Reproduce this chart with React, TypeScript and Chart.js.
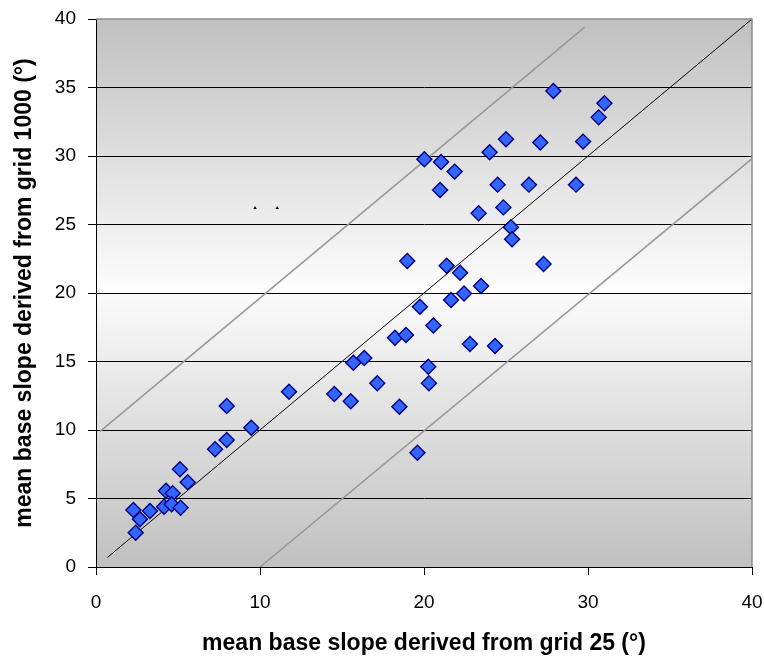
import React, { useEffect, useRef } from "react";
import { Chart, registerables } from "chart.js";

Chart.register(...registerables);

// grid 25 slope (x) and grid 1000 slope (y)
const grid25: number[] = [
  2.28, 2.68, 3.29, 2.42, 4.15, 4.27, 4.68, 4.61, 5.16, 5.59,
  5.12, 7.26, 7.97, 7.97, 9.47, 11.77, 14.53, 15.53, 15.69, 16.36,
  17.15, 18.23, 18.9, 18.5, 19.75, 19.6, 21.65, 22.44, 23.48, 20.57,
  22.8, 24.33, 20.26, 20.3, 27.89, 31.0, 30.65, 25.0, 27.09, 29.7,
  24.0, 20.02, 21.04, 21.87, 20.98, 24.49, 26.4, 29.27, 24.84, 23.33,
  25.3, 25.37, 18.98, 21.38, 22.2, 27.29,
];
const grid1000: number[] = [
  4.16, 3.48, 4.09, 2.5, 4.4, 5.57, 5.38, 4.58, 4.33, 6.18,
  7.13, 8.59, 9.27, 11.75, 10.17, 12.8, 12.63, 12.1, 14.91, 15.26,
  13.41, 16.74, 16.93, 11.7, 19.0, 8.34, 19.49, 19.97, 20.51, 17.62,
  16.28, 16.13, 14.62, 13.41, 34.74, 33.85, 32.82, 31.22, 30.98, 31.05,
  30.27, 29.76, 29.56, 28.86, 27.52, 27.91, 27.91, 27.91, 26.25, 25.82,
  24.8, 23.92, 22.34, 21.99, 21.48, 22.12,
];

const oneToOneX: number[] = [0.7, 40];
const oneToOneY: number[] = [0.7, 40];
const upperX: number[] = [0.25, 29.8];
const upperY: number[] = [9.9, 39.4];
const lowerX: number[] = [10, 40];
const lowerY: number[] = [0, 29.8];
const markX: number[] = [9.7, 11.05];
const markY: number[] = [26.2, 26.2];

const xTicks: number[] = [0, 10, 20, 30, 40];
const yTicks: number[] = [0, 5, 10, 15, 20, 25, 30, 35, 40];

const xTitle = "mean base slope derived from grid 25 (°)";
const yTitle = "mean base slope derived from grid 1000 (°)";

const FONT = "'Liberation Sans', Arial, sans-serif";

const pairs = (xs: number[], ys: number[]) => xs.map((x, i) => ({ x, y: ys[i] }));

const bgPlugin = {
  id: "bgGradient",
  beforeDraw(chart: any) {
    const { ctx, chartArea } = chart;
    if (!chartArea) return;
    const { left, top, right, bottom } = chartArea;
    const g = ctx.createLinearGradient(0, top, 0, bottom);
    g.addColorStop(0, "#c0c0c0");
    g.addColorStop(0.49, "#fcfcfc");
    g.addColorStop(1, "#c0c0c0");
    ctx.save();
    ctx.fillStyle = g;
    ctx.fillRect(left, top, right - left, bottom - top);
    ctx.restore();
  },
  afterDraw(chart: any) {
    const { ctx, chartArea } = chart;
    const { left, top, right, bottom } = chartArea;
    ctx.save();
    ctx.strokeStyle = "#8c8c8c";
    ctx.lineWidth = 1.5;
    ctx.beginPath();
    ctx.moveTo(left, top);
    ctx.lineTo(right, top);
    ctx.lineTo(right, bottom);
    ctx.stroke();
    ctx.restore();
  },
};

export default function App() {
  const ref = useRef<HTMLCanvasElement | null>(null);

  useEffect(() => {
    if (!ref.current) return;
    const chart = new Chart(ref.current, {
      type: "scatter",
      data: {
        datasets: [
          {
            label: "slopes",
            data: pairs(grid25, grid1000),
            pointStyle: "rectRot",
            pointRadius: 7.5,
            pointBackgroundColor: "#3366ff",
            pointBorderColor: "#000080",
            pointBorderWidth: 1.4,
            showLine: false,
          },
          {
            label: "marks",
            data: pairs(markX, markY),
            pointStyle: "triangle",
            pointRadius: 2,
            pointBackgroundColor: "#000",
            pointBorderColor: "#000",
            pointBorderWidth: 0,
            showLine: false,
          },
          {
            label: "1:1",
            data: pairs(oneToOneX, oneToOneY),
            showLine: true,
            borderColor: "#000",
            borderWidth: 1,
            pointRadius: 0,
          },
          {
            label: "+10",
            data: pairs(upperX, upperY),
            showLine: true,
            borderColor: "#999999",
            borderWidth: 1.6,
            pointRadius: 0,
          },
          {
            label: "-10",
            data: pairs(lowerX, lowerY),
            showLine: true,
            borderColor: "#999999",
            borderWidth: 1.6,
            pointRadius: 0,
          },
        ],
      },
      options: {
        animation: false,
        responsive: true,
        maintainAspectRatio: false,
        layout: { padding: { left: 0, top: 19, right: 12, bottom: 0 } },
        plugins: {
          legend: { display: false },
          tooltip: { enabled: false },
        },
        scales: {
          x: {
            type: "linear",
            min: 0,
            max: 40,
            afterFit: (s: any) => {
              s.height = 92;
              s.paddingLeft = 0;
              s.paddingRight = 0;
            },
            afterBuildTicks: (s: any) => {
              s.ticks = xTicks.map((v) => ({ value: v }));
            },
            ticks: {
              color: "#000",
              font: { family: FONT, size: 19 },
              padding: 16,
              maxRotation: 0,
            },
            grid: {
              drawOnChartArea: false,
              drawTicks: true,
              tickLength: 8,
              tickColor: "#000",
            },
            border: { color: "#000", width: 1 },
            title: {
              display: true,
              text: xTitle,
              color: "#000",
              font: { family: FONT, size: 23, weight: "bold" },
              padding: { top: 0, bottom: 2 },
            },
          },
          y: {
            type: "linear",
            min: 0,
            max: 40,
            afterFit: (s: any) => {
              s.width = 96;
              s.paddingTop = 0;
              s.paddingBottom = 0;
            },
            afterBuildTicks: (s: any) => {
              s.ticks = yTicks.map((v) => ({ value: v }));
            },
            ticks: {
              color: "#000",
              font: { family: FONT, size: 19 },
              padding: 12,
            },
            grid: {
              color: (c: any) => (c.tick && c.tick.value === 40 ? "rgba(0,0,0,0)" : "#000"),
              lineWidth: 1,
              tickLength: 8,
              tickColor: "#000",
            },
            border: { color: "#000", width: 1 },
            title: {
              display: true,
              text: yTitle,
              color: "#000",
              font: { family: FONT, size: 23, weight: "bold" },
              padding: { top: 11, bottom: 0 },
            },
          },
        },
      },
      plugins: [bgPlugin],
    });
    return () => chart.destroy();
  }, []);

  return (
    <div style={{ position: "fixed", left: 0, top: 0, width: 764, height: 659, background: "#fff" }}>
      <canvas ref={ref} />
    </div>
  );
}
